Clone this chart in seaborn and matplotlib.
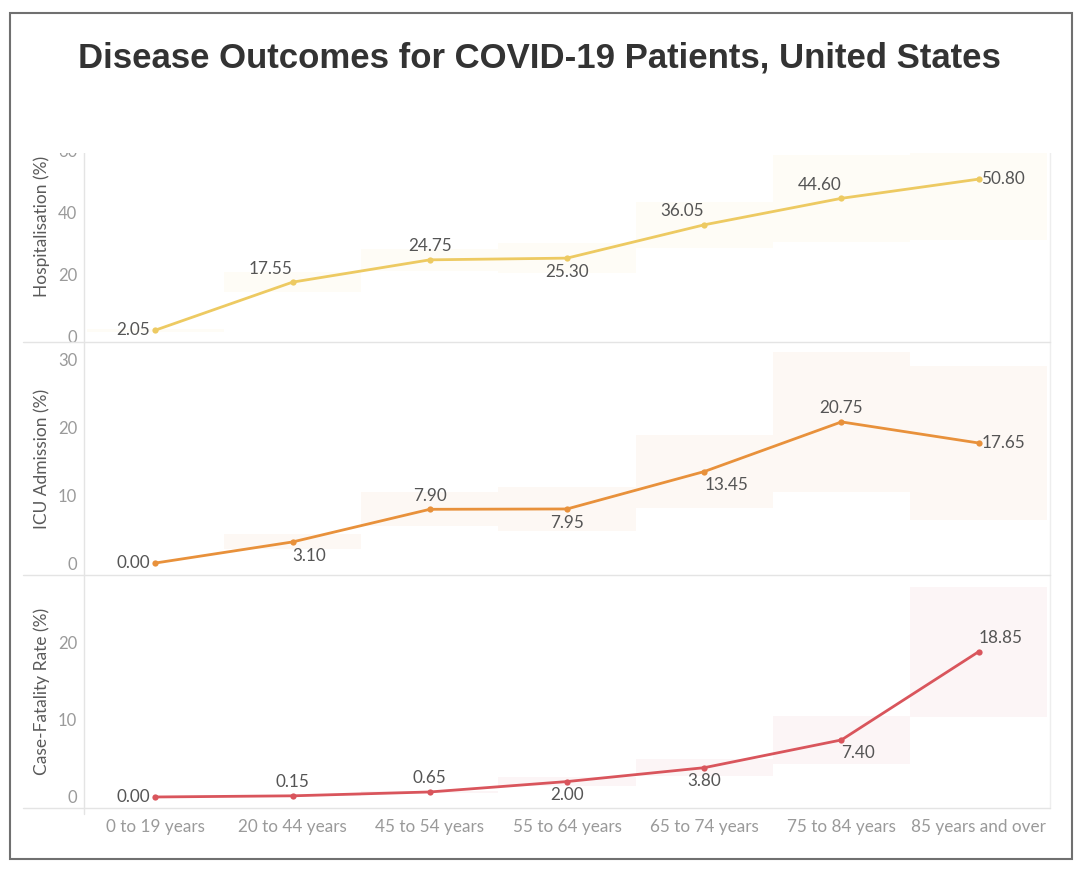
import matplotlib
matplotlib.use("Agg")
import pandas as pd
import matplotlib.pyplot as plt
import seaborn as sns
from matplotlib.patches import Rectangle
from matplotlib.lines import Line2D

# =========================
# Data
# =========================

age_groups = [
    "0 to 19 years", "20 to 44 years", "45 to 54 years", "55 to 64 years",
    "65 to 74 years", "75 to 84 years", "85 years and over",
]

hosp_mid = [2.05, 17.55, 24.75, 25.30, 36.05, 44.60, 50.80]
hosp_low = [1.6, 14.3, 21.2, 20.5, 28.6, 30.5, 31.3]
hosp_high = [2.5, 20.8, 28.3, 30.1, 43.5, 58.7, 70.3]

icu_mid = [0.00, 3.10, 7.90, 7.95, 13.45, 20.75, 17.65]
icu_low = [0.0, 2.0, 5.4, 4.7, 8.1, 10.5, 6.3]
icu_high = [0.0, 4.2, 10.4, 11.2, 18.8, 31.0, 29.0]

cfr_mid = [0.00, 0.15, 0.65, 2.00, 3.80, 7.40, 18.85]
cfr_low = [0.0, 0.1, 0.5, 1.4, 2.7, 4.3, 10.4]
cfr_high = [0.0, 0.2, 0.8, 2.6, 4.9, 10.5, 27.3]

panel_titles = ["Hospitalisation (%)", "ICU Admission (%)", "Case-Fatality Rate (%)"]

# =========================
# Styling
# =========================

sns.set_theme(style="white")
plt.rcParams["font.family"] = ["Lato", "DejaVu Sans"]

W, H = 1080, 869
colors = ["#EDCA62", "#E8913B", "#D9555C"]

# panel extents in pixels (top, bottom) and y limits
panel_px = [(150, 342), (342, 575), (575, 808)]
ylims = [(-1.77, 60.2), (-1.76, 32.5), (-1.43, 28.8)]
yticks = [[0, 20, 40, 60], [0, 10, 20, 30], [0, 10, 20]]
ylabel_pos = [0.6, 0.5, 0.5]

label_modes = [
    ["left", "above_l", "above", "below", "above_l", "above_l", "right"],
    ["left", "below_r", "above", "below", "below_r", "above", "right"],
    ["left", "above", "above", "below", "below", "below_r", "above_r"],
]

modes = {
    "above": dict(xytext=(0, 4), ha="center", va="bottom"),
    "above_l": dict(xytext=(0, 4), ha="right", va="bottom"),
    "above_r": dict(xytext=(0, 4), ha="left", va="bottom"),
    "below": dict(xytext=(0, -4), ha="center", va="top"),
    "below_r": dict(xytext=(0, -4), ha="left", va="top"),
    "left": dict(xytext=(-4, 0), ha="right", va="center"),
    "right": dict(xytext=(2, 0), ha="left", va="center"),
}

df = pd.DataFrame({
    "age": age_groups * 3,
    "value": hosp_mid + icu_mid + cfr_mid,
    "low": hosp_low + icu_low + cfr_low,
    "high": hosp_high + icu_high + cfr_high,
    "measure": [t for t in panel_titles for _ in age_groups],
})

# =========================
# Figure
# =========================

fig = plt.figure(figsize=(W / 100, H / 100), dpi=100)
fig.patch.set_facecolor("white")

left_px, right_px = 84, 1050

for k, title in enumerate(panel_titles):
    top, bot = panel_px[k]
    ax = fig.add_axes([left_px / W, 1 - bot / H,
                       (right_px - left_px) / W, (bot - top) / H])
    sub = df[df["measure"] == title]

    # faint range bands behind each category
    ax.bar(sub["age"], sub["high"] - sub["low"], bottom=sub["low"],
           width=1.0, color=colors[k], alpha=0.055, linewidth=0, zorder=0)

    sns.lineplot(data=sub, x="age", y="value", color=colors[k],
                 marker="o", markersize=4.5, markeredgewidth=0,
                 linewidth=2.0, sort=False, ax=ax, zorder=3)

    for i, (v, m) in enumerate(zip(sub["value"], label_modes[k])):
        opts = modes[m]
        ax.annotate(f"{v:.2f}", xy=(i, v), textcoords="offset points",
                    xytext=opts["xytext"], ha=opts["ha"], va=opts["va"],
                    fontsize=12.3, color="#555555", zorder=4)

    ax.set_xlim(-0.52, 6.52)
    ax.set_ylim(*ylims[k])
    ax.set_yticks(yticks[k])
    ax.tick_params(axis="both", length=0, labelsize=12, colors="#9a9a9a")
    ax.tick_params(axis="y", pad=5)
    ax.tick_params(axis="x", pad=8, labelsize=12.3)
    ax.set_xlabel("")
    ax.set_ylabel(title, fontsize=12.5, color="#5a5a5a")
    ax.yaxis.set_label_coords(-0.035, ylabel_pos[k])

    if k < 2:
        ax.set_xticklabels([])

    for side in ["top", "left", "bottom"]:
        ax.spines[side].set_visible(False)
    ax.spines["right"].set_color("#eeeeee")
    ax.spines["right"].set_linewidth(1)
    ax.set_facecolor("none")

# separator lines between panels and the left axis rule
for y in [342, 575, 808]:
    fig.add_artist(Line2D([23 / W, right_px / W], [1 - y / H, 1 - y / H],
                          color="#e4e4e4", linewidth=1.0))
fig.add_artist(Line2D([left_px / W, left_px / W], [1 - 150 / H, 1 - 814 / H],
                      color="#e4e4e4", linewidth=1.0))

# top of the chart is cropped in the reference screenshot
fig.add_artist(Rectangle((12 / W, 1 - 153 / H), 1056 / W, 58 / H,
                         transform=fig.transFigure, facecolor="white",
                         edgecolor="none", zorder=5))

# outer frame
fig.add_artist(Rectangle((10 / W, 1 - 859 / H), 1062 / W, 846 / H,
                         transform=fig.transFigure, fill=False,
                         edgecolor="#707070", linewidth=1.5, zorder=6))

fig.text(539 / W, 1 - 58 / H, "Disease Outcomes for COVID-19 Patients, United States",
         ha="center", va="center", fontsize=25, fontweight="bold",
         color="#333333", family=["Liberation Sans", "DejaVu Sans"], zorder=7)

plt.savefig("out.png", dpi=100)
